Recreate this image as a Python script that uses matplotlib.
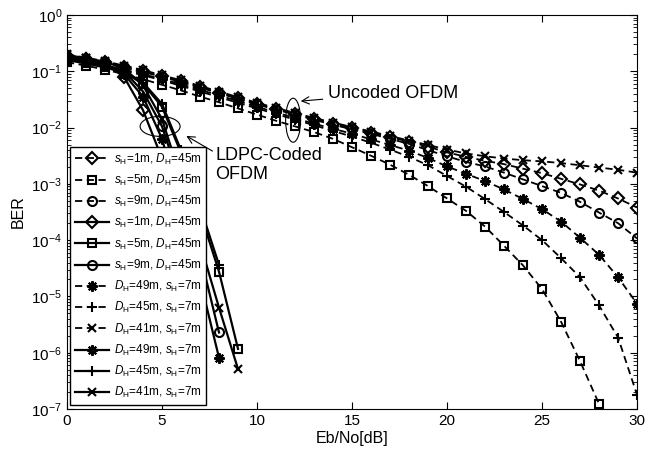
import matplotlib
matplotlib.use("Agg")
import matplotlib.pyplot as plt
from matplotlib.patches import Ellipse
from matplotlib.transforms import ScaledTranslation

plt.rcParams['font.family'] = ['Liberation Sans', 'DejaVu Sans']
plt.rcParams['mathtext.fontset'] = 'custom'
plt.rcParams['mathtext.rm'] = 'Liberation Sans'
plt.rcParams['mathtext.it'] = 'Liberation Sans:italic'
plt.rcParams['mathtext.bf'] = 'Liberation Sans:bold'

# Eb/No grid [dB]
snr_uncoded = list(range(0, 31))
snr_coded = list(range(0, 10))

# uncoded OFDM (dashed)
ber_unc_s1 = [1.9e-1, 1.66e-1, 1.45e-1, 1.2e-1, 1.0e-1, 8.13e-2, 6.61e-2, 5.25e-2, 4.17e-2, 3.31e-2,
              2.63e-2, 2.14e-2, 1.74e-2, 1.41e-2, 1.17e-2, 9.77e-3, 8.13e-3, 6.76e-3, 5.62e-3, 4.57e-3,
              3.63e-3, 3.02e-3, 2.57e-3, 2.24e-3, 1.86e-3, 1.55e-3, 1.23e-3, 9.77e-4, 7.59e-4, 5.5e-4, 3.8e-4]
ber_unc_s5 = [1.45e-1, 1.26e-1, 1.07e-1, 8.91e-2, 7.24e-2, 5.75e-2, 4.57e-2, 3.55e-2, 2.82e-2, 2.19e-2,
              1.7e-2, 1.32e-2, 1.05e-2, 8.32e-3, 6.31e-3, 4.47e-3, 3.16e-3, 2.19e-3, 1.45e-3, 9.12e-4,
              5.5e-4, 3.31e-4, 1.74e-4, 7.94e-5, 3.55e-5, 1.35e-5, 3.55e-6, 7.08e-7, 1.23e-7]
ber_unc_s9 = [1.82e-1, 1.58e-1, 1.38e-1, 1.17e-1, 9.77e-2, 7.94e-2, 6.46e-2, 5.13e-2, 4.07e-2, 3.24e-2,
              2.57e-2, 2.09e-2, 1.7e-2, 1.38e-2, 1.12e-2, 9.33e-3, 7.76e-3, 6.31e-3, 5.13e-3, 3.98e-3,
              3.09e-3, 2.45e-3, 2.04e-3, 1.58e-3, 1.2e-3, 9.12e-4, 6.92e-4, 4.79e-4, 3.09e-4, 2.0e-4, 1.07e-4]
ber_unc_d49 = [1.66e-1, 1.45e-1, 1.26e-1, 1.07e-1, 8.91e-2, 7.24e-2, 5.89e-2, 4.68e-2, 3.72e-2, 2.95e-2,
               2.34e-2, 1.86e-2, 1.48e-2, 1.17e-2, 9.55e-3, 7.76e-3, 6.17e-3, 4.9e-3, 3.89e-3, 2.88e-3,
               2.04e-3, 1.51e-3, 1.12e-3, 7.94e-4, 5.37e-4, 3.55e-4, 2.14e-4, 1.1e-4, 5.5e-5, 2.19e-5, 7.41e-6]
ber_unc_d45 = [1.58e-1, 1.38e-1, 1.2e-1, 1.02e-1, 8.51e-2, 6.92e-2, 5.5e-2, 4.37e-2, 3.47e-2, 2.75e-2,
               2.19e-2, 1.74e-2, 1.38e-2, 1.1e-2, 8.71e-3, 6.92e-3, 5.37e-3, 4.07e-3, 3.02e-3, 2.14e-3,
               1.38e-3, 8.91e-4, 5.37e-4, 3.16e-4, 1.82e-4, 1.0e-4, 4.79e-5, 2.19e-5, 6.92e-6, 1.86e-6, 1.78e-7]
ber_unc_d41 = [2.0e-1, 1.74e-1, 1.51e-1, 1.26e-1, 1.05e-1, 8.51e-2, 6.92e-2, 5.5e-2, 4.37e-2, 3.47e-2,
               2.75e-2, 2.24e-2, 1.82e-2, 1.48e-2, 1.23e-2, 1.02e-2, 8.51e-3, 7.08e-3, 5.89e-3, 4.9e-3,
               4.07e-3, 3.47e-3, 3.09e-3, 2.82e-3, 2.63e-3, 2.51e-3, 2.34e-3, 2.14e-3, 1.95e-3, 1.78e-3, 1.58e-3]

# LDPC-coded OFDM (solid)
ber_cod_s1 = [1.9e-1, 1.66e-1, 1.41e-1, 7.94e-2, 2.04e-2, 2.82e-3, 2.51e-4, 1.26e-5]
ber_cod_s5 = [1.58e-1, 1.38e-1, 1.17e-1, 9.55e-2, 6.03e-2, 2.34e-2, 3.55e-3, 3.16e-4, 2.75e-5, 1.17e-6]
ber_cod_s9 = [1.78e-1, 1.55e-1, 1.32e-1, 1.0e-1, 4.37e-2, 1.05e-2, 1.0e-3, 5.62e-5, 2.29e-6]
ber_cod_d49 = [1.7e-1, 1.48e-1, 1.26e-1, 8.91e-2, 3.55e-2, 6.31e-3, 3.98e-4, 2.0e-5, 8.13e-7]
ber_cod_d45 = [1.66e-1, 1.45e-1, 1.23e-1, 1.0e-1, 6.31e-2, 2.63e-2, 3.98e-3, 3.98e-4, 3.63e-5]
ber_cod_d41 = [1.95e-1, 1.7e-1, 1.48e-1, 1.12e-1, 5.62e-2, 1.41e-2, 1.26e-3, 8.91e-5, 6.31e-6, 5.13e-7]

lbl_s1 = r'$s_{\rm H}$=1m, $D_{\rm H}$=45m'
lbl_s5 = r'$s_{\rm H}$=5m, $D_{\rm H}$=45m'
lbl_s9 = r'$s_{\rm H}$=9m, $D_{\rm H}$=45m'
lbl_d49 = r'$D_{\rm H}$=49m, $s_{\rm H}$=7m'
lbl_d45 = r'$D_{\rm H}$=45m, $s_{\rm H}$=7m'
lbl_d41 = r'$D_{\rm H}$=41m, $s_{\rm H}$=7m'

ASTER = (8, 2, 0)

series = [
    (ber_unc_s1, 'D', 'dashed', lbl_s1, snr_uncoded),
    (ber_unc_s5, 's', 'dashed', lbl_s5, snr_uncoded),
    (ber_unc_s9, 'o', 'dashed', lbl_s9, snr_uncoded),
    (ber_cod_s1, 'D', 'solid', lbl_s1, snr_coded),
    (ber_cod_s5, 's', 'solid', lbl_s5, snr_coded),
    (ber_cod_s9, 'o', 'solid', lbl_s9, snr_coded),
    (ber_unc_d49, ASTER, 'dashed', lbl_d49, snr_uncoded),
    (ber_unc_d45, '+', 'dashed', lbl_d45, snr_uncoded),
    (ber_unc_d41, 'x', 'dashed', lbl_d41, snr_uncoded),
    (ber_cod_d49, ASTER, 'solid', lbl_d49, snr_coded),
    (ber_cod_d45, '+', 'solid', lbl_d45, snr_coded),
    (ber_cod_d41, 'x', 'solid', lbl_d41, snr_coded),
]
msizes = {'D': 6, 's': 6, 'o': 6.5, '+': 7.5, 'x': 6, ASTER: 7.5}

fig = plt.figure(figsize=(6.72, 4.53), dpi=100)
ax = fig.add_axes([0.0997, 0.0971, 0.8483, 0.8698])

for vals, mk, ls, lbl, snr in series:
    x = snr[:len(vals)]
    if ls == 'dashed':
        ax.plot(x, vals, color='black', lw=1.3, dashes=(4, 2.5), marker=mk,
                markersize=msizes[mk], mfc='none', mec='black', mew=1.5, label=lbl)
    else:
        ax.plot(x, vals, color='black', lw=1.6, marker=mk,
                markersize=msizes[mk], mfc='none', mec='black', mew=1.5, label=lbl)

ax.set_yscale('log')
ax.set_xlim(0, 30)
ax.set_ylim(1e-7, 1)
ax.set_xticks(range(0, 31, 5))
ax.set_yticks([1e-7, 1e-6, 1e-5, 1e-4, 1e-3, 1e-2, 1e-1, 1])
ax.tick_params(which='both', direction='in', top=True, right=True, labelsize=11)
ax.tick_params(which='major', length=5)
ax.tick_params(which='minor', length=3)
ax.set_xlabel('Eb/No[dB]', fontsize=11.5, labelpad=2)
ax.set_ylabel('BER', fontsize=11.5, labelpad=4)

leg = ax.legend(loc='lower left', bbox_to_anchor=(0.005, 0.01), borderaxespad=0,
                fontsize=8.5, handlelength=2.9, handletextpad=0.4, labelspacing=0.52,
                borderpad=0.4, fancybox=False, framealpha=1, edgecolor='black')
leg.get_frame().set_linewidth(1.0)


def ellipse_at(x, y, w_in, h_in):
    tr = fig.dpi_scale_trans + ScaledTranslation(x, y, ax.transData)
    ax.add_patch(Ellipse((0, 0), w_in, h_in, transform=tr, fill=False,
                         lw=0.8, edgecolor='black', zorder=5))


ellipse_at(11.9, 1.35e-2, 0.15, 0.44)
ellipse_at(4.9, 1.05e-2, 0.40, 0.20)

ax.annotate('Uncoded OFDM', xy=(12.3, 2.95e-2), xytext=(13.75, 4.1e-2),
            fontsize=13, va='center', ha='left',
            arrowprops=dict(arrowstyle='->', lw=0.8, color='black', shrinkA=2, shrinkB=0))
ax.annotate('LDPC-Coded\nOFDM', xy=(6.28, 7.1e-3), xytext=(7.8, 2.14e-3),
            fontsize=13, va='center', ha='left', linespacing=1.15,
            arrowprops=dict(arrowstyle='->', lw=0.8, color='black', shrinkA=0, shrinkB=0,
                            relpos=(0, 0.85)))

fig.savefig('out.png', dpi=100)
